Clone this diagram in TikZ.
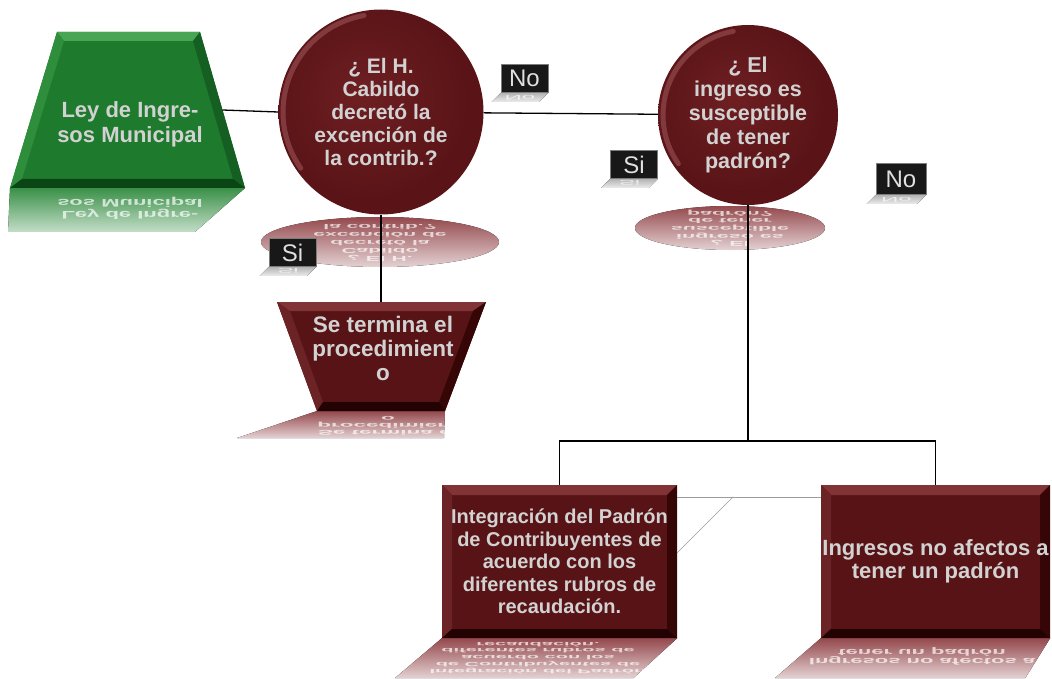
\documentclass[tikz,border=0pt]{standalone}
\usepackage{graphicx}
\usepackage{fontspec}
\setmainfont{Liberation Sans}
\usetikzlibrary{calc,backgrounds}
\definecolor{grface}{HTML}{1E7A2D}
\definecolor{grlt}{HTML}{47A554}
\definecolor{grmd}{HTML}{2E8E3C}
\definecolor{grsd}{HTML}{145F21}
\definecolor{grdk}{HTML}{0B4415}
\definecolor{grrefl}{HTML}{3A9048}
\definecolor{mrface}{HTML}{571315}
\definecolor{mrlt}{HTML}{823336}
\definecolor{mrmd}{HTML}{6C2326}
\definecolor{mrsd}{HTML}{360607}
\definecolor{mrdk}{HTML}{230203}
\definecolor{mrc0}{HTML}{6E1F22}
\definecolor{mrc1}{HTML}{5A1417}
\definecolor{mrc2}{HTML}{3C0709}
\definecolor{mrc3}{HTML}{1E0203}
\definecolor{mrrim}{HTML}{B0676B}
\definecolor{mrrefl}{HTML}{94494D}
\definecolor{txt}{HTML}{D2D2D2}
\definecolor{tagbg}{HTML}{181818}
\definecolor{tagedge}{HTML}{7C7C7C}
\definecolor{ghost}{HTML}{9C9C9C}
\pgfdeclareradialshading{discshade}{\pgfpoint{-5bp}{5bp}}{%
  color(0bp)=(mrc0); color(24bp)=(mrc1); color(41bp)=(mrc1);
  color(48bp)=(mrc2); color(53bp)=(mrc3)}
% upside-down, squeezed copy of a text block
\newcommand{\flipped}[2]{\scalebox{1}[-#1]{\begin{tabular}{@{}c@{}}#2\end{tabular}}}
% four bevel bands between outer corners X-a..X-d and inner corners X-ia..X-id
\newcommand{\bevel}[5]{%
  \fill[#2] (#1-a) -- (#1-b) -- (#1-ib) -- (#1-ia) -- cycle;
  \fill[#3] (#1-a) -- (#1-ia) -- (#1-id) -- (#1-d) -- cycle;
  \fill[#4] (#1-b) -- (#1-c) -- (#1-ic) -- (#1-ib) -- cycle;
  \fill[#5] (#1-d) -- (#1-c) -- (#1-ic) -- (#1-id) -- cycle;
}
\tikzset{
  conn/.style={line width=1.3pt, black},
  ghostline/.style={line width=0.6pt, ghost},
  txtsize/.style 2 args={font=\fontsize{#1}{#2}\selectfont\bfseries},
  bigtxt/.style={text=txt, align=center, inner sep=0pt},
  decision/.style={circle, shading=discshade, inner sep=0pt, bigtxt},
  rim/.style={mrrim, line width=5pt, opacity=.45, line cap=round},
  boxbevel/.style={path picture={
    \coordinate (p-a) at (path picture bounding box.north west);
    \coordinate (p-b) at (path picture bounding box.north east);
    \coordinate (p-c) at (path picture bounding box.south east);
    \coordinate (p-d) at (path picture bounding box.south west);
    \coordinate (p-ia) at ($(p-a)+(10,10)$);
    \coordinate (p-ib) at ($(p-b)+(-10,10)$);
    \coordinate (p-ic) at ($(p-c)+(-10,-9)$);
    \coordinate (p-id) at ($(p-d)+(10,-9)$);
    \bevel{p}{mrlt}{mrmd}{mrsd}{mrdk}}},
  procbox/.style={rectangle, fill=mrface, boxbevel, bigtxt},
  tagbox/.style={fill=tagbg, draw=tagedge, line width=0.6pt, text=white!88!black,
    inner sep=0pt, minimum width=47pt, minimum height=28pt,
    font=\fontsize{24}{24}\selectfont},
  tagshadow/.style={top color=gray!60, bottom color=gray!15},
  redrefl/.style={top color=mrrefl, bottom color=mrrefl!25!white},
  greenrefl/.style={top color=grrefl, bottom color=grrefl!30!white},
  mirror/.style={text=white, text opacity=.7, align=center, inner sep=0pt},
}
\begin{document}
\begin{tikzpicture}[x=1pt,y=-1pt]
\useasboundingbox (0,0) rectangle (1052,679);

% --- start: Ley de Ingresos ---
\coordinate (ley-a) at (57,32);
\coordinate (ley-b) at (200,32);
\coordinate (ley-c) at (245,188);
\coordinate (ley-d) at (10,188);
\coordinate (ley-ia) at ($(ley-a)+(7,9)$);
\coordinate (ley-ib) at ($(ley-b)+(-7,9)$);
\coordinate (ley-ic) at ($(ley-c)+(-12,-9)$);
\coordinate (ley-id) at ($(ley-d)+(12,-9)$);
\fill[grface] (ley-a) -- (ley-b) -- (ley-c) -- (ley-d) -- cycle;
\bevel{ley}{grlt}{grmd}{grsd}{grdk}
\node[bigtxt, txtsize={22}{25}] (ley) at (130,124) {Ley de Ingre-\\sos Municipal};

% --- decisions ---
\node[decision, minimum size=205pt, txtsize={21}{23}] (c1) at (381,112)
  {¿ El H.\\Cabildo\\decretó la\\excención de\\la contrib.?};
\node[decision, minimum size=180pt, txtsize={21.5}{24}] (c2) at (748,115)
  {¿ El\\ingreso es\\susceptible\\de tener\\padrón?};
\draw[rim] ($(c1)+(-100:98)$) arc[start angle=-100, end angle=-215, radius=98];
\draw[rim] ($(c2)+(-100:85)$) arc[start angle=-100, end angle=-215, radius=85];

% --- end of procedure ---
\coordinate (fin-a) at (277,302);
\coordinate (fin-b) at (486,302);
\coordinate (fin-c) at (445,411);
\coordinate (fin-d) at (317,411);
\coordinate (fin-ia) at ($(fin-a)+(13,9)$);
\coordinate (fin-ib) at ($(fin-b)+(-13,9)$);
\coordinate (fin-ic) at ($(fin-c)+(-6,-9)$);
\coordinate (fin-id) at ($(fin-d)+(6,-9)$);
\fill[mrface] (fin-a) -- (fin-b) -- (fin-c) -- (fin-d) -- cycle;
\bevel{fin}{mrlt}{mrmd}{mrsd}{mrdk}
\node[bigtxt, txtsize={22.5}{24}] (fin) at (383,348) {Se termina el\\procedimient\\o};

% --- bottom boxes ---
\node[procbox, minimum width=235pt, minimum height=153pt, txtsize={20}{22.5}] (box3) at (559.5,561.5)
  {Integración del Padrón\\de Contribuyentes de\\acuerdo con los\\diferentes rubros de\\recaudación.};
\node[procbox, minimum width=229pt, minimum height=153pt, txtsize={22}{23}] (box4) at (935.5,561.5)
  {Ingresos no afectos a\\tener un padrón};

% --- connectors ---
\coordinate (ley-e) at ($(ley-b)!.5!(ley-c)$);
\coordinate (split) at (748,441);
\draw[conn] (ley-e) -- (c1.west);
\draw[conn] (c1) -- (c2);
\draw[conn] (c1.south) -- (c1.south |- fin-a);
\draw[conn] (c2.south) -- (split);
\draw[conn] (box3.north) |- (split) -| (box4.north);
\draw[ghostline] ($(box3.north east)+(0,12)$) -- ($(box4.north west)+(0,12)$);
\draw[ghostline] ($(box3.north east)+(56,12)$) -- ($(box3.north east)+(0,68)$);

% --- answer tags ---
\node[tagbox] (no1) at (524.5,78.5) {No};
\node[tagbox] (si1) at (292.5,252.5) {Si};
\node[tagbox] (si2) at (634,164.5) {Si};
\node[tagbox, minimum width=50pt, minimum height=31pt] (no2) at (901,179) {No};

% --- reflections ---
\begin{scope}[on background layer]
  % green start
  \coordinate (leyr-c) at ($(ley-c)+(-50,44)$);
  \coordinate (leyr-d) at ($(ley-d)+(-2,44)$);
  \fill[greenrefl] (ley-d) -- (ley-c) -- (leyr-c) -- (leyr-d) -- cycle;
  \begin{scope}
    \clip (ley-d) -- (ley-c) -- (leyr-c) -- (leyr-d) -- cycle;
    \node[mirror, txtsize={22}{25}] (leyrefl) at (130,208) {\flipped{.5}{Ley de Ingre-\\sos Municipal}};
  \end{scope}
  % circles
  \coordinate (c1r) at (380,242);
  \fill[redrefl] (c1r) ellipse [x radius=119, y radius=25];
  \begin{scope}
    \clip (c1r) ellipse [x radius=119, y radius=25];
    \node[mirror, txtsize={21}{23}] (c1refl) at (c1r)
      {\flipped{.34}{¿ El H.\\Cabildo\\decretó la\\excención de\\la contrib.?}};
  \end{scope}
  \coordinate (c2r) at (730,228);
  \fill[redrefl] (c2r) ellipse [x radius=95, y radius=22];
  \begin{scope}
    \clip (c2r) ellipse [x radius=95, y radius=22];
    \node[mirror, txtsize={21.5}{24}] (c2refl) at (c2r)
      {\flipped{.32}{¿ El\\ingreso es\\susceptible\\de tener\\padrón?}};
  \end{scope}
  % end shape
  \coordinate (finr-c) at ($(fin-c)+(-1,27)$);
  \coordinate (finr-d) at ($(fin-d)+(-80,27)$);
  \fill[redrefl] (fin-d) -- (fin-c) -- (finr-c) -- (finr-d) -- cycle;
  \begin{scope}
    \clip (fin-d) -- (fin-c) -- (finr-c) -- (finr-d) -- cycle;
    \node[mirror, txtsize={22.5}{24}] (finrefl) at (388,425) {\flipped{.3}{Se termina el\\procedimient\\o}};
  \end{scope}
  % boxes
  \coordinate (b3r-a) at (box3.south west);
  \coordinate (b3r-b) at (box3.south east);
  \coordinate (b3r-c) at ($(b3r-b)+(-44,40)$);
  \coordinate (b3r-d) at ($(b3r-a)+(-47,40)$);
  \fill[redrefl] (b3r-a) -- (b3r-b) -- (b3r-c) -- (b3r-d) -- cycle;
  \begin{scope}
    \clip (b3r-a) -- (b3r-b) -- (b3r-c) -- (b3r-d) -- cycle;
    \node[mirror, txtsize={20}{22.5}] (b3refl) at (538,657)
      {\flipped{.3}{Integración del Padrón\\de Contribuyentes de\\acuerdo con los\\diferentes rubros de\\recaudación.}};
  \end{scope}
  \coordinate (b4r-a) at (box4.south west);
  \coordinate (b4r-b) at (box4.south east);
  \coordinate (b4r-c) at ($(b4r-b)+(-25,40)$);
  \coordinate (b4r-d) at ($(b4r-a)+(-46,40)$);
  \fill[redrefl] (b4r-a) -- (b4r-b) -- (b4r-c) -- (b4r-d) -- cycle;
  \begin{scope}
    \clip (b4r-a) -- (b4r-b) -- (b4r-c) -- (b4r-d) -- cycle;
    \node[mirror, txtsize={22}{23}] (b4refl) at (922,656)
      {\flipped{.42}{Ingresos no afectos a\\tener un padrón}};
  \end{scope}
  % tags
  \foreach \t/\w in {no1/No, si1/Si, si2/Si, no2/No}{
    \fill[tagshadow] (\t.south west) -- (\t.south east) -- ($(\t.south east)+(-9,9)$)
      -- ($(\t.south west)+(-9,9)$) -- cycle;
    \node[mirror, font=\fontsize{24}{24}\selectfont] (\t refl) at ($(\t.south)+(-4.5,4.5)$)
      {\scalebox{1}[-.28]{\w}};
  }
\end{scope}

\end{tikzpicture}
\end{document}
